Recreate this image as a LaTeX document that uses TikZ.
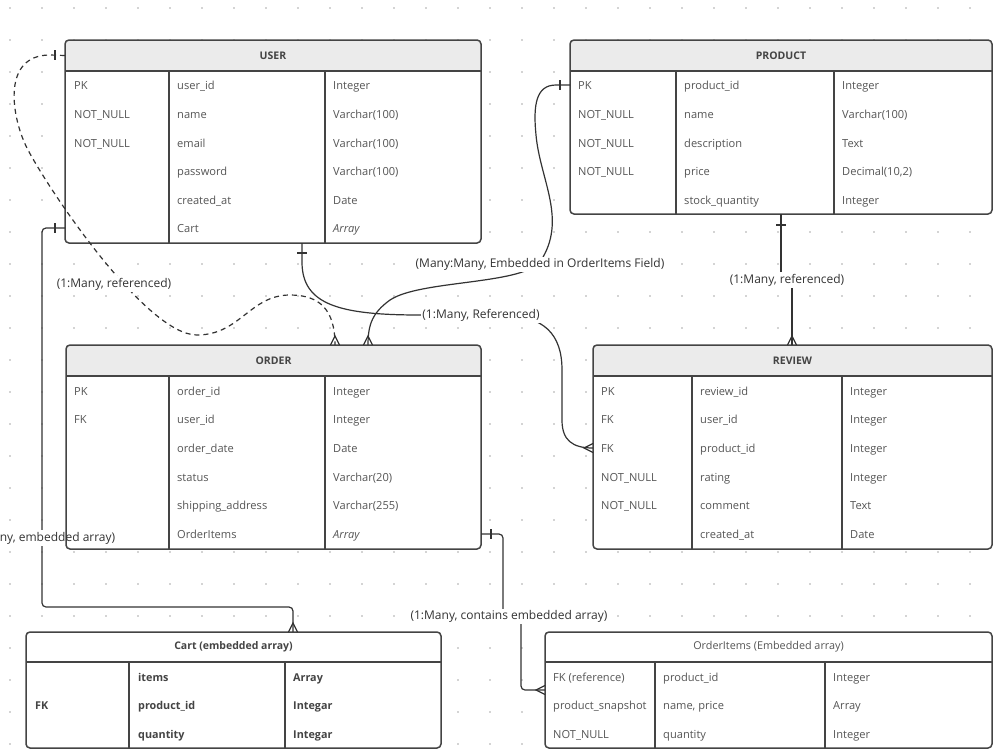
\documentclass[tikz,border=0pt]{standalone}
\usepackage{fontspec}
\setmainfont{Open Sans}
\usetikzlibrary{calc}
\definecolor{linec}{HTML}{333333}
\definecolor{borderc}{HTML}{444444}
\definecolor{hdrfill}{HTML}{EBEBEB}
\definecolor{fieldc}{HTML}{555555}
\definecolor{dotc}{HTML}{A8A8A8}
\tikzset{
 fieldtxt/.style={anchor=base west, inner sep=0pt, font=\fontsize{11.1}{12}\selectfont, text=fieldc},
 titletxt/.style={inner sep=0pt, font=\fontsize{10.5}{12}\selectfont\bfseries, text=borderc},
 tblframe/.style={draw=borderc, line width=1.5pt, rounded corners=4pt},
 tblline/.style={draw=borderc, line width=1.5pt},
 conn/.style={draw=linec, line width=1.2pt},
 dashconn/.style={conn, dash pattern=on 5pt off 4pt},
 lbl/.style={fill=white, inner sep=1.5pt, font=\fontsize{12}{14}\selectfont, text=linec},
}
% name, l, t, r, b, hb, d1, d2, header fill
\newcommand{\ertable}[9]{%
 \fill[white, rounded corners=4pt] (#2,#3) rectangle (#4,#5);
 \node[inner sep=0pt, outer sep=0pt, minimum width={#4pt-#2pt}, minimum height={#5pt-#3pt}] (#1) at ({(#2+#4)/2},{(#3+#5)/2}) {};
 \begin{scope}
  \clip (#2,#3) rectangle (#4,#6);
  \fill[#9, rounded corners=4pt] (#2,#3) rectangle (#4,#5);
 \end{scope}
 \draw[tblline] (#2,#6) -- (#4,#6);
 \draw[tblline] (#7,#6) -- (#7,#5);
 \draw[tblline] (#8,#6) -- (#8,#5);
 \draw[tblframe] (#2,#3) rectangle (#4,#5);
}
% name, index, y, xk, xf, xt, key, field, type
\newcommand{\errow}[9]{%
 \coordinate (#1-r#2) at (0,#3);
 \node[fieldtxt] (#1-k#2) at ({#4},{#3+4}) {#7};
 \node[fieldtxt] (#1-f#2) at ({#5},{#3+4}) {#8};
 \node[fieldtxt] (#1-t#2) at ({#6},{#3+4}) {#9};
}
\newcommand{\crowdown}[2]{\draw[conn] ({#1-4.5},#2) -- (#1,{#2-9}) -- ({#1+4.5},#2);}
\newcommand{\crowright}[2]{\draw[conn] (#1,{#2-4.5}) -- ({#1-9},#2) -- (#1,{#2+4.5});}
\newcommand{\barh}[2]{\draw[conn] ({#1-5},#2) -- ({#1+5},#2);}
\newcommand{\barv}[2]{\draw[conn] (#1,{#2-5}) -- (#1,{#2+5});}
\begin{document}
\begin{tikzpicture}[x=1pt, y=-1pt]
\useasboundingbox (0,0) rectangle (1000,750);
\fill[white] (0,0) rectangle (1000,750);
% grid dots
\foreach \i in {0,...,31}{
 \foreach \j in {0,...,23}{
  \fill[dotc] ({10+32*\i},{8+32*\j}) circle (0.8pt);
 }
}
% ---------------- USER
\ertable{user}{65}{40}{481}{243}{71}{169}{325}{hdrfill}
\node[titletxt] (user-title) at (273,55.5) {USER};
\errow{user}{1}{85}{74}{177}{333}{PK}{user\_id}{Integer}
\errow{user}{2}{114}{74}{177}{333}{NOT\_NULL}{name}{Varchar(100)}
\errow{user}{3}{143}{74}{177}{333}{NOT\_NULL}{email}{Varchar(100)}
\errow{user}{4}{171}{74}{177}{333}{}{password}{Varchar(100)}
\errow{user}{5}{200}{74}{177}{333}{}{created\_at}{Date}
\errow{user}{6}{228}{74}{177}{333}{}{Cart}{\itshape Array}
% ---------------- PRODUCT
\ertable{product}{570}{40}{992}{214}{71}{676}{834}{hdrfill}
\node[titletxt] (product-title) at (781,55.5) {PRODUCT};
\errow{product}{1}{85}{578}{684}{842}{PK}{product\_id}{Integer}
\errow{product}{2}{114}{578}{684}{842}{NOT\_NULL}{name}{Varchar(100)}
\errow{product}{3}{143}{578}{684}{842}{NOT\_NULL}{description}{Text}
\errow{product}{4}{171}{578}{684}{842}{NOT\_NULL}{price}{Decimal(10,2)}
\errow{product}{5}{200}{578}{684}{842}{}{stock\_quantity}{Integer}
% ---------------- ORDER
\ertable{order}{66}{345}{481}{549}{376}{169}{325}{hdrfill}
\node[titletxt] (order-title) at (273.5,360.5) {ORDER};
\errow{order}{1}{391}{74}{177}{333}{PK}{order\_id}{Integer}
\errow{order}{2}{419}{74}{177}{333}{FK}{user\_id}{Integer}
\errow{order}{3}{448}{74}{177}{333}{}{order\_date}{Date}
\errow{order}{4}{477}{74}{177}{333}{}{status}{Varchar(20)}
\errow{order}{5}{505}{74}{177}{333}{}{shipping\_address}{Varchar(255)}
\errow{order}{6}{534}{74}{177}{333}{}{OrderItems}{\itshape Array}
% ---------------- REVIEW
\ertable{review}{593}{345}{992}{549}{376}{692}{842}{hdrfill}
\node[titletxt] (review-title) at (792.5,360.5) {REVIEW};
\errow{review}{1}{391}{601}{700}{850}{PK}{review\_id}{Integer}
\errow{review}{2}{419}{601}{700}{850}{FK}{user\_id}{Integer}
\errow{review}{3}{448}{601}{700}{850}{FK}{product\_id}{Integer}
\errow{review}{4}{477}{601}{700}{850}{NOT\_NULL}{rating}{Integer}
\errow{review}{5}{505}{601}{700}{850}{NOT\_NULL}{comment}{Text}
\errow{review}{6}{534}{601}{700}{850}{}{created\_at}{Date}
% ---------------- Cart
\ertable{cart}{26}{632}{441}{748}{662}{129}{285}{white}
\begin{scope}[fieldtxt/.append style={font=\fontsize{10.8}{12}\selectfont\bfseries, text=borderc}]
\node[titletxt] (cart-title) at (233.5,647) {Cart (embedded array)};
\errow{cart}{1}{677}{35}{138}{293}{}{items}{Array}
\errow{cart}{2}{705}{35}{138}{293}{FK}{product\_id}{Integar}
\errow{cart}{3}{734}{35}{138}{293}{}{quantity}{Integar}
\end{scope}
% ---------------- OrderItems
\ertable{oitems}{545}{632}{992}{748}{662}{655}{825}{white}
\node[titletxt, font=\fontsize{10.8}{12}\selectfont, text=fieldc] (oitems-title) at (768.5,647) {OrderItems (Embedded array)};
\errow{oitems}{1}{677}{553}{663}{833}{FK (reference)}{product\_id}{Integer}
\errow{oitems}{2}{705}{553}{663}{833}{product\_snapshot}{name, price}{Array}
\errow{oitems}{3}{734}{553}{663}{833}{NOT\_NULL}{quantity}{Integer}
% ---------------- connectors
% C1 USER -> ORDER (dashed)
\draw[dashconn] (user.west |- user-title) -- (50,55) .. controls (0,55) and (12,120) .. (28,150)
  .. controls (52,195) and (147,335) .. (197,335) .. controls (240,335) and (250,295) .. (290,295)
  .. controls (320,295) and (335,310) .. ($(order.north west)+(269,0)$);
\barv{55}{55}
\crowdown{335}{345}
% C2 USER -> REVIEW
\draw[conn] ($(user.south west)+(237,0)$) -- (302,262) .. controls (302,305) and (340,315) .. (420,315)
  -- (500,315) .. controls (545,315) and (562,335) .. (562,370) -- (562,420)
  .. controls (562,440) and (572,448) .. (review.west |- review-r3);
\barh{302}{253}
\crowright{593}{448}
% C3 PRODUCT -> ORDER
\draw[conn] (product.west |- product-r1) -- (556,85) .. controls (536,85) and (533,105) .. (536,135)
  .. controls (540,180) and (568,220) .. (540,262) .. controls (520,285) and (420,280) .. (390,300)
  .. controls (372,313) and (368,325) .. ($(order.north west)+(302,0)$);
\barv{560}{85}
\crowdown{368}{345}
% C4 PRODUCT -> REVIEW
\draw[conn] ($(product.south west)+(211,0)$) -- (781,280) -- (792,280) -- ($(review.north west)+(199,0)$);
\barh{781}{225}
\crowdown{792}{345}
% C5 USER -> Cart
\draw[conn, rounded corners=4pt] (user.west |- user-r6) -- (42,228) -- (42,607) -- (293,607) -- ($(cart.north west)+(267,0)$);
\barv{55}{228}
\crowdown{293}{632}
% C6 ORDER -> OrderItems
\draw[conn, rounded corners=4pt] (order.east |- order-r6) -- (503,534) -- (503,616) -- (521,616) -- (521,690) -- ($(oitems.north west)+(0,58)$);
\barv{491}{534}
\crowright{545}{690}
% ---------------- labels
\node[lbl] (l1) at (114,284) {(1:Many, referenced)};
\node[lbl] (l2) at (481,315) {(1:Many, Referenced)};
\node[lbl] (l3) at (540,264) {(Many:Many, Embedded in OrderItems Field)};
\node[lbl] (l4) at (787,280) {(1:Many, referenced)};
\fill[white] (-40,530) rectangle (64.5,546);
\node[lbl, fill=none] (l5) at (42,538) {(1:Many, embedded array)};
\node[lbl] (l6) at (509,616) {(1:Many, contains embedded array)};
\end{tikzpicture}
\end{document}
